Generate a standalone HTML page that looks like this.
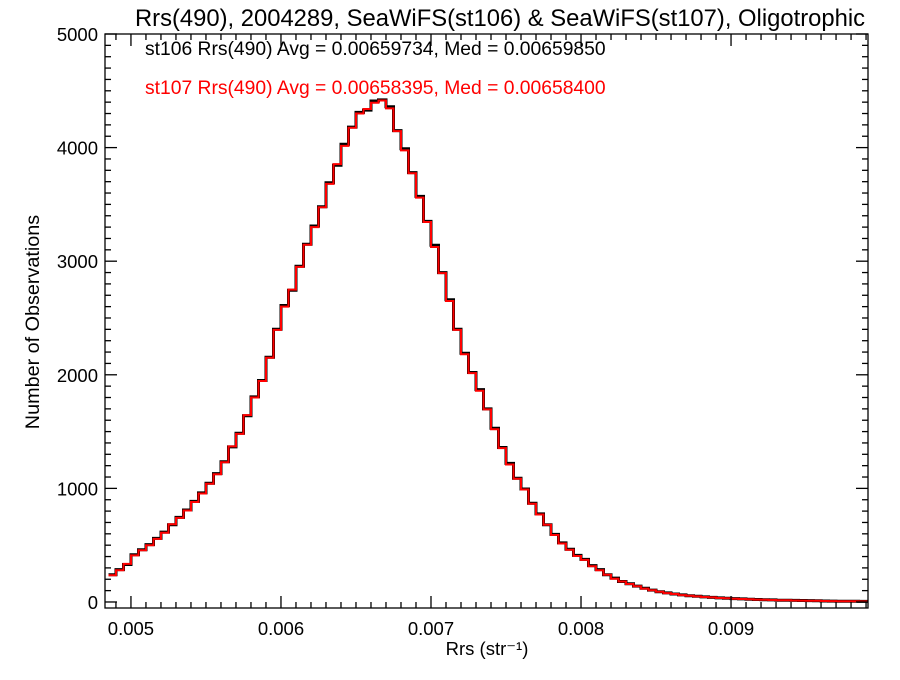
<!DOCTYPE html>
<html><head><meta charset="utf-8"><style>
body{margin:0;background:#fff;width:900px;height:675px;overflow:hidden}
svg text{font-family:"Liberation Sans",Arial,sans-serif}
</style></head><body>
<svg id="chart" width="900" height="675" xmlns="http://www.w3.org/2000/svg">
<text x="500" y="26" font-size="23.8" text-anchor="middle">Rrs(490), 2004289, SeaWiFS(st106) &amp; SeaWiFS(st107), Oligotrophic</text>
<text x="145" y="55" font-size="19.3" fill="#000">st106 Rrs(490) Avg = 0.00659734, Med = 0.00659850</text>
<text x="145" y="94" font-size="19.3" fill="#ff0000">st107 Rrs(490) Avg = 0.00658395, Med = 0.00658400</text>
<text x="487" y="655" font-size="18.5" text-anchor="middle">Rrs (str⁻¹)</text>
<text transform="translate(39,322) rotate(-90)" font-size="19.8" text-anchor="middle">Number of Observations</text>
<g id="marks"></g>
<g id="axes"></g>
</svg>
<script>
const binStart = 0.00485;
const binWidth = 0.00005;
const st106 = [240,285,330,415,460,505,560,615,680,745,810,885,960,1045,1130,1235,1365,1485,1640,1805,1950,2155,2400,2610,2745,2955,3150,3310,3480,3690,3845,4030,4180,4310,4330,4410,4420,4360,4150,3990,3780,3570,3350,3140,2900,2660,2400,2190,2020,1870,1700,1530,1360,1220,1090,995,870,775,680,595,520,465,410,375,320,285,240,210,180,160,140,120,105,90,80,70,62,55,50,45,40,36,32,30,27,24,22,20,18,16,15,14,13,12,10,9,8,7,6,6,5,5];
const st107 = [235,280,335,410,455,500,555,610,685,740,805,880,955,1040,1125,1230,1370,1480,1645,1800,1945,2150,2395,2600,2750,2950,3145,3300,3475,3680,3855,4015,4175,4300,4340,4395,4415,4345,4145,3975,3775,3560,3345,3125,2895,2650,2395,2180,2015,1860,1695,1520,1355,1210,1085,990,865,770,680,590,515,460,405,370,315,280,240,205,180,158,138,118,104,90,78,70,61,54,49,44,40,35,32,29,26,24,21,19,17,16,15,13,12,11,10,9,8,7,6,6,5,4];
const xTicks = [0.005,0.006,0.007,0.008,0.009];
const xTickLabels = ["0.005","0.006","0.007","0.008","0.009"];
const yTicks = [0,1000,2000,3000,4000,5000];
const yTickLabels = ["0","1000","2000","3000","4000","5000"];
const X0=105,X1=868,Y0=34,Y1=608;
const xMin=0.004827,xMax=0.009913,yMin=-53,yMax=5000;
const sx=v=>X0+(v-xMin)/(xMax-xMin)*(X1-X0);
const sy=v=>Y1-(v-yMin)/(yMax-yMin)*(Y1-Y0);
const NS="http://www.w3.org/2000/svg";
const marks=document.getElementById('marks'),axes=document.getElementById('axes');
function step(vals,color,w,name){
  let d="";
  vals.forEach((v,i)=>{
    const a=Math.max(X0,sx(binStart+i*binWidth)),b=Math.min(X1,sx(binStart+(i+1)*binWidth)),y=sy(v);
    d+=(i===0?"M":"L")+a.toFixed(1)+","+y.toFixed(1)+"L"+b.toFixed(1)+","+y.toFixed(1);
  });
  const p=document.createElementNS(NS,'path');
  p.setAttribute('d',d);p.setAttribute('fill','none');p.setAttribute('stroke',color);p.setAttribute('stroke-width',w);
  
  
  marks.appendChild(p);
}
step(st106,'#000',3,'series-st106');
step(st107,'#ff0000',2,'series-st107');
function line(x1,y1,x2,y2,w){const l=document.createElementNS(NS,'line');l.setAttribute('x1',x1);l.setAttribute('y1',y1);l.setAttribute('x2',x2);l.setAttribute('y2',y2);l.setAttribute('stroke','#000');l.setAttribute('stroke-width',w||1.3);axes.appendChild(l);return l;}
function text(x,y,s,anchor,name){const t=document.createElementNS(NS,'text');t.setAttribute('x',x);t.setAttribute('y',y);t.setAttribute('font-size','18.5');t.setAttribute('text-anchor',anchor);t.textContent=s;
  
  
  axes.appendChild(t);}
const frame=document.createElementNS(NS,'rect');
frame.setAttribute('x',X0);frame.setAttribute('y',Y0);frame.setAttribute('width',X1-X0);frame.setAttribute('height',Y1-Y0);
frame.setAttribute('fill','none');frame.setAttribute('stroke','#000');frame.setAttribute('stroke-width','1.3');


axes.appendChild(frame);
for(let k=49;k<=99;k++){const v=k/10000,x=sx(v);if(x<X0||x>X1)continue;const major=k%10===0;const L=major?12:6;line(x,Y1,x,Y1-L);line(x,Y0,x,Y0+L);}
xTicks.forEach((v,i)=>text(sx(v),Y1+27,xTickLabels[i],'middle','x-tick-label'));
for(let k=0;k<=50;k++){const v=k*100,y=sy(v);const major=k%10===0;const L=major?12:6;line(X0,y,X0+L,y);line(X1,y,X1-L,y);}
yTicks.forEach((v,i)=>text(X0-7,sy(v)+7,yTickLabels[i],'end','y-tick-label'));
</script>
</body></html>
